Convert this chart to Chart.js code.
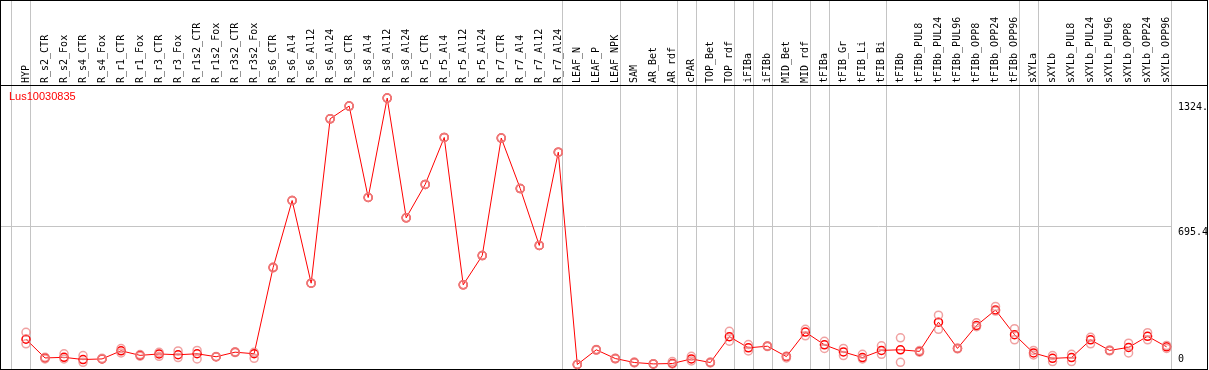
<!DOCTYPE html>
<html>
<head>
<meta charset="utf-8">
<script src="https://cdn.jsdelivr.net/npm/chart.js@4/dist/chart.umd.min.js"></script>
<style>
  html, body { margin: 0; padding: 0; background: #fff; }
  canvas { display: block; }
</style>
</head>
<body>
<canvas id="grafico" width="1209" height="370"></canvas>
<script>
const geneName = 'Lus10030835';

const categories = [
  'HYP', 'R_s2_CTR', 'R_s2_Fox', 'R_s4_CTR', 'R_s4_Fox', 'R_r1_CTR', 'R_r1_Fox',
  'R_r3_CTR', 'R_r3_Fox', 'R_r1s2_CTR', 'R_r1s2_Fox', 'R_r3s2_CTR', 'R_r3s2_Fox',
  'R_s6_CTR', 'R_s6_Al4', 'R_s6_Al12', 'R_s6_Al24', 'R_s8_CTR', 'R_s8_Al4',
  'R_s8_Al12', 'R_s8_Al24', 'R_r5_CTR', 'R_r5_Al4', 'R_r5_Al12', 'R_r5_Al24',
  'R_r7_CTR', 'R_r7_Al4', 'R_r7_Al12', 'R_r7_Al24', 'LEAF_N', 'LEAF_P', 'LEAF_NPK',
  'SAM', 'AR_Bet', 'AR_rdf', 'cPAR', 'TOP_Bet', 'TOP_rdf', 'iFIBa', 'iFIBb',
  'MID_Bet', 'MID_rdf', 'tFIBa', 'tFIB_Gr', 'tFIB_Li', 'tFIB_Bi', 'tFIBb',
  'tFIBb_PUL8', 'tFIBb_PUL24', 'tFIBb_PUL96', 'tFIBb_OPP8', 'tFIBb_OPP24', 'tFIBb_OPP96',
  'sXYLa', 'sXYLb', 'sXYLb_PUL8', 'sXYLb_PUL24', 'sXYLb_PUL96', 'sXYLb_OPP8',
  'sXYLb_OPP24', 'sXYLb_OPP96'
];

// mean expression (red line)
const meanValues = [
  127, 33, 36, 25, 28, 69, 46, 53, 49, 54, 39, 62, 54,
  488, 825, 409, 1236, 1300, 840, 1340, 738, 906, 1142, 401, 548,
  1139, 885, 599, 1068, 0, 74, 30,
  10, 3, 5, 28, 10, 140, 84, 92,
  40, 163, 99, 63, 35, 71, 74,
  66, 213, 81, 196, 274, 150,
  58, 31, 35, 124, 71, 86, 142, 89
];

// replicates (light circles)
const repHigh = [
  162, 36, 54, 45, 31, 80, 50, 61, 68, 71, 40, 64, 61,
  490, 825, 409, 1236, 1300, 840, 1340, 738, 906, 1142, 401, 548,
  1139, 885, 599, 1068, 0, 76, 32,
  12, 4, 15, 41, 12, 167, 100, 94,
  42, 177, 117, 81, 51, 94, 134,
  70, 248, 83, 210, 292, 180,
  71, 45, 51, 137, 73, 107, 160, 96
];
const repLow = [
  104, 28, 28, 11, 28, 58, 42, 41, 35, 28, 38, 60, 31,
  486, 825, 409, 1236, 1300, 840, 1340, 738, 906, 1142, 401, 548,
  1139, 885, 599, 1068, 0, 72, 28,
  8, 2, 3, 18, 8, 117, 68, 90,
  33, 144, 81, 45, 28, 51, 11,
  62, 177, 79, 190, 269, 124,
  48, 15, 15, 104, 69, 58, 124, 81
];

const yTickValues = [0, 695.4, 1324];
const yTickLabels = ['0', '695.4', '1324.'];

// index of last category in each group (vertical separators)
const groupEnds = [-1, 0, 28, 31, 34, 35, 37, 38, 39, 41, 42, 45, 52, 53, 60];

const fundo = {
  id: 'fundo',
  beforeDatasetsDraw(chart) {
    const ctx = chart.ctx;
    const x = chart.scales.x;
    const y = chart.scales.y;
    const step = x.getPixelForValue(1) - x.getPixelForValue(0);
    ctx.save();
    ctx.lineWidth = 1;

    ctx.strokeStyle = '#c4c4c4';
    groupEnds.forEach(i => {
      const px = Math.round(x.getPixelForValue(0) + i * step + 4.2) + 0.5;
      ctx.beginPath();
      ctx.moveTo(px, 0);
      ctx.lineTo(px, 370);
      ctx.stroke();
    });
    const py = Math.round(y.getPixelForValue(695.4)) + 0.5;
    ctx.beginPath();
    ctx.moveTo(0, py);
    ctx.lineTo(1171, py);
    ctx.stroke();

    ctx.strokeStyle = '#000';
    ctx.strokeRect(0.5, 0.5, 1207, 369);
    ctx.beginPath();
    ctx.moveTo(0, 85.5);
    ctx.lineTo(1208, 85.5);
    ctx.stroke();

    ctx.fillStyle = '#000';
    ctx.font = '10px "DejaVu Sans Mono"';
    ctx.textAlign = 'left';
    yTickValues.forEach((v, k) => {
      const p = y.getPixelForValue(v);
      if (v === 0) {
        ctx.textBaseline = 'alphabetic';
        ctx.fillText(yTickLabels[k], 1178, p - 3);
      } else {
        ctx.textBaseline = 'top';
        ctx.fillText(yTickLabels[k], 1178, p + 1);
      }
    });

    ctx.fillStyle = '#ff0000';
    ctx.font = '11px "Liberation Sans", Arial';
    ctx.textBaseline = 'middle';
    ctx.fillText(geneName, 9, 97);
    ctx.restore();
  }
};

const replicaStyle = {
  type: 'line',
  showLine: false,
  pointStyle: 'circle',
  pointRadius: 4,
  pointBorderWidth: 1.5,
  pointBorderColor: 'rgba(235, 130, 130, 0.75)',
  pointBackgroundColor: 'transparent',
  clip: false
};

new Chart(document.getElementById('grafico').getContext('2d'), {
  type: 'line',
  data: {
    labels: categories,
    datasets: [
      Object.assign({ data: repHigh }, replicaStyle),
      Object.assign({ data: repLow }, replicaStyle),
      {
        data: meanValues,
        borderColor: '#ff0000',
        borderWidth: 1,
        tension: 0,
        pointStyle: 'circle',
        pointRadius: 4,
        pointBorderWidth: 1.5,
        pointBorderColor: '#ff0000',
        pointBackgroundColor: 'transparent',
        clip: false
      }
    ]
  },
  options: {
    responsive: false,
    animation: false,
    events: [],
    layout: { padding: { left: 26, top: 0, right: 0, bottom: 1 } },
    plugins: { legend: { display: false }, tooltip: { enabled: false } },
    scales: {
      x: {
        position: 'top',
        offset: false,
        grid: { display: false, drawTicks: false },
        border: { display: false },
        ticks: {
          autoSkip: false,
          minRotation: 90,
          maxRotation: 90,
          padding: 2,
          labelOffset: 12,
          color: '#000',
          font: { family: 'DejaVu Sans Mono', size: 10 }
        },
        afterFit(scale) { scale.height = 85; }
      },
      y: {
        position: 'right',
        min: 0,
        max: 1406,
        grid: { display: false },
        border: { display: false },
        ticks: { display: false },
        afterFit(scale) { scale.width = 42.4; }
      }
    }
  },
  plugins: [fundo]
});
</script>
</body>
</html>
